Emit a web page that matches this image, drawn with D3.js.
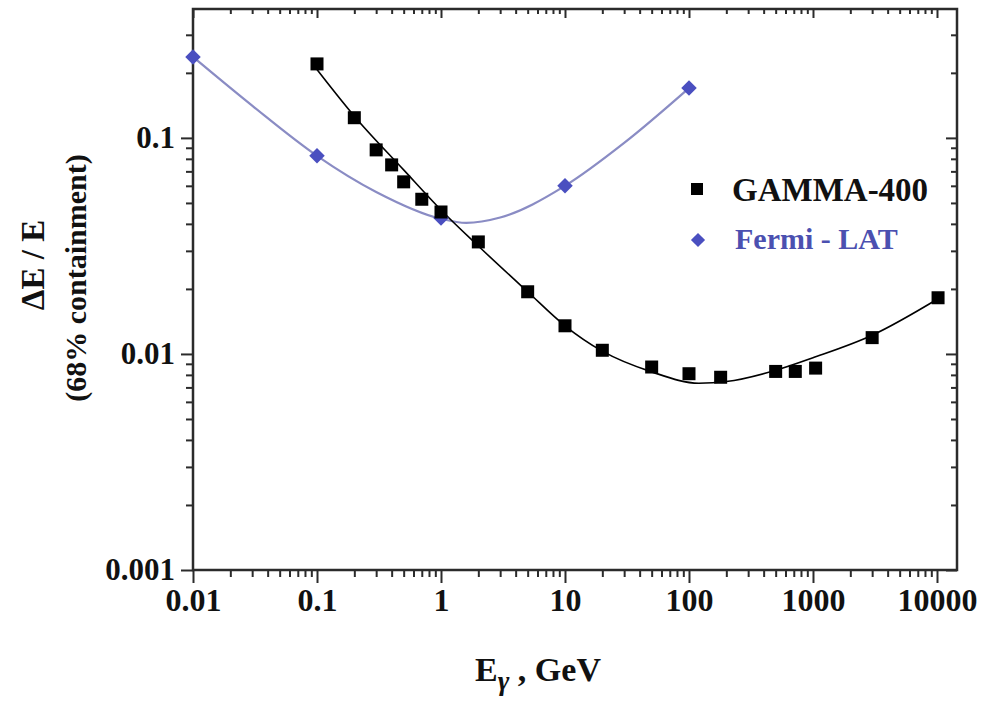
<!DOCTYPE html>
<html>
<head>
<meta charset="utf-8">
<script src="https://cdn.jsdelivr.net/npm/d3@7"></script>
<style>
  body { margin: 0; background: #fff; }
  svg { display: block; }
</style>
</head>
<body>
<svg id="chart" width="985" height="706"></svg>
<script>
/// DATA ///
// GAMMA-400 energy resolution (measured points)
var gammaE = [0.1, 0.2, 0.3, 0.4, 0.5, 0.7, 1, 2, 5, 10, 20, 50, 100, 180, 500, 720, 1050, 3000, 10200];
var gammaRes = [0.22, 0.124, 0.088, 0.075, 0.0626, 0.052, 0.0454, 0.033, 0.0194, 0.0135, 0.0104,
  0.0087, 0.0081, 0.0078, 0.0083, 0.0083, 0.0086, 0.0119, 0.0182];
// GAMMA-400 fit curve
var gammaFitE = [0.095, 0.2, 0.5, 1, 2, 5, 10, 20, 50, 120, 200, 500, 1000, 3000, 10200];
var gammaFitRes = [0.215, 0.126, 0.0711, 0.0464, 0.0316, 0.0194, 0.0135, 0.0103, 0.00826,
  0.00732, 0.00745, 0.0084, 0.0096, 0.0122, 0.018];

// Fermi-LAT points
var fermiE = [0.01, 0.1, 1, 10, 100];
var fermiRes = [0.237, 0.0826, 0.0426, 0.06, 0.17];
// Fermi-LAT fit curve
var fermiFitE = [0.01, 0.03, 0.1, 0.3, 1, 1.6, 3, 10, 30, 100];
var fermiFitRes = [0.237, 0.141, 0.0826, 0.0562, 0.0422, 0.0404, 0.0428, 0.06, 0.0948, 0.17];

// tick labels
var xTicks = [0.01, 0.1, 1, 10, 100, 1000, 10000];
var xTickLabels = ["0.01", "0.1", "1", "10", "100", "1000", "10000"];
var yTicks = [0.001, 0.01, 0.1];
var yTickLabels = ["0.001", "0.01", "0.1"];

var COLOR = {
  AXIS: "#2b2b2b",
  GAMMA: "#000000",
  FERMI: "#4a4fc0",
  FERMI_LINE: "#8a8cc4",
  FERMI_TEXT: "#4b50b0"
};
var FONT = "'Liberation Serif', 'Times New Roman', Times, 'DejaVu Serif', serif";

/// SETUP ///
var margin = { top: 9, right: 28, bottom: 136, left: 193 };
var width = 985 - margin.left - margin.right;
var height = 706 - margin.top - margin.bottom;

var svg = d3.select("#chart")
  .style("font-family", FONT)
  .style("font-weight", "bold");
var plot = svg.append("g")
  .attr("transform", "translate(" + margin.left + "," + margin.top + ")");

var x = d3.scaleLog().domain([0.01, 14500]).range([0, width]);
var y = d3.scaleLog().domain([0.001, 0.395]).range([height, 0]);

// minor tick values: 2..9 in each decade within the domain
function minorTicks(scale) {
  var dom = scale.domain();
  var out = [];
  for (var k = Math.floor(Math.log10(dom[0])); k <= Math.ceil(Math.log10(dom[1])); k++) {
    for (var m = 2; m <= 9; m++) {
      var v = m * Math.pow(10, k);
      if (v > dom[0] && v < dom[1]) out.push(v);
    }
  }
  return out;
}

function styleAxis(g) {
  g.attr("font-family", null).attr("font-size", null);
  g.select(".domain").remove();
  g.selectAll("line").attr("stroke", COLOR.AXIS).attr("stroke-width", 2);
  g.selectAll("text")
    .attr("fill", "#111")
    .style("font-family", FONT)
    .style("font-weight", "bold");
}

// bottom axis
plot.append("g")
  .attr("transform", "translate(0," + height + ")")
  .call(d3.axisBottom(x).tickValues(minorTicks(x)).tickSize(7).tickFormat(""))
  .call(styleAxis);
plot.append("g")
  .attr("transform", "translate(0," + height + ")")
  .call(d3.axisBottom(x).tickValues(xTicks).tickSize(13).tickPadding(5)
    .tickFormat(function (d, i) { return xTickLabels[i]; }))
  .call(styleAxis)
  .selectAll("text")
  .style("font-size", "32px");

// top axis (ticks inward)
plot.append("g")
  .call(d3.axisBottom(x).tickValues(minorTicks(x)).tickSize(5).tickFormat(""))
  .call(styleAxis);
plot.append("g")
  .call(d3.axisBottom(x).tickValues(xTicks).tickSize(9).tickFormat(""))
  .call(styleAxis);

// left axis
plot.append("g")
  .call(d3.axisLeft(y).tickValues(minorTicks(y)).tickSize(7).tickFormat(""))
  .call(styleAxis);
plot.append("g")
  .call(d3.axisLeft(y).tickValues(yTicks).tickSize(12).tickPadding(6)
    .tickFormat(function (d, i) { return yTickLabels[i]; }))
  .call(styleAxis)
  .selectAll("text")
  .style("font-size", "31px");

// right axis (ticks inward)
plot.append("g")
  .attr("transform", "translate(" + width + ",0)")
  .call(d3.axisLeft(y).tickValues(minorTicks(y)).tickSize(6).tickFormat(""))
  .call(styleAxis);
plot.append("g")
  .attr("transform", "translate(" + width + ",0)")
  .call(d3.axisLeft(y).tickValues(yTicks).tickSize(11).tickFormat(""))
  .call(styleAxis);

// frame
plot.append("rect")
  .attr("width", width)
  .attr("height", height)
  .attr("fill", "none")
  .attr("stroke", COLOR.AXIS)
  .attr("stroke-width", 2.5);

/// CURVES ///
var line = d3.line()
  .x(function (d) { return x(d[0]); })
  .y(function (d) { return y(d[1]); })
  .curve(d3.curveMonotoneX);

plot.append("path")
  .datum(d3.zip(fermiFitE, fermiFitRes))
  .attr("d", line)
  .attr("fill", "none")
  .attr("stroke", COLOR.FERMI_LINE)
  .attr("stroke-width", 2.2);

plot.append("path")
  .datum(d3.zip(gammaFitE, gammaFitRes))
  .attr("d", line)
  .attr("fill", "none")
  .attr("stroke", COLOR.GAMMA)
  .attr("stroke-width", 1.6);

/// MARKERS ///
var diamond = d3.symbol().type(d3.symbolSquare).size(120);

plot.selectAll(".fermi-pt")
  .data(d3.zip(fermiE, fermiRes))
  .enter()
  .append("path")
  .attr("class", "fermi-pt")
  .attr("d", diamond)
  .attr("transform", function (d) {
    return "translate(" + x(d[0]) + "," + y(d[1]) + ") rotate(45)";
  })
  .attr("fill", COLOR.FERMI);

plot.selectAll(".gamma-pt")
  .data(d3.zip(gammaE, gammaRes))
  .enter()
  .append("rect")
  .attr("class", "gamma-pt")
  .attr("x", function (d) { return x(d[0]) - 6.5; })
  .attr("y", function (d) { return y(d[1]) - 6.5; })
  .attr("width", 13)
  .attr("height", 13)
  .attr("fill", COLOR.GAMMA);

/// LEGEND ///
var legend = svg.append("g");
legend.append("rect")
  .attr("x", 691).attr("y", 183).attr("width", 12).attr("height", 12)
  .attr("fill", COLOR.GAMMA);
legend.append("text")
  .attr("x", 732).attr("y", 201)
  .style("font-size", "33px")
  .attr("fill", "#111")
  .text("GAMMA-400");
legend.append("path")
  .attr("d", d3.symbol().type(d3.symbolSquare).size(100))
  .attr("transform", "translate(698,240) rotate(45)")
  .attr("fill", COLOR.FERMI);
legend.append("text")
  .attr("x", 735).attr("y", 249)
  .style("font-size", "30px")
  .attr("fill", COLOR.FERMI_TEXT)
  .text("Fermi - LAT");

/// AXIS TITLES ///
var xTitle = svg.append("text")
  .attr("x", 475).attr("y", 681)
  .style("font-size", "34px")
  .attr("fill", "#111");
xTitle.append("tspan").text("E");
xTitle.append("tspan")
  .attr("dy", 9)
  .style("font-size", "28px")
  .style("font-style", "italic")
  .text("\u03B3");
xTitle.append("tspan").attr("dy", -9).text(" , GeV");

svg.append("text")
  .attr("transform", "translate(44,265) rotate(-90)")
  .attr("text-anchor", "middle")
  .style("font-size", "33px")
  .attr("fill", "#111")
  .text("\u0394E / E");

svg.append("text")
  .attr("transform", "translate(86,278) rotate(-90)")
  .attr("text-anchor", "middle")
  .style("font-size", "30px")
  .attr("fill", "#111")
  .text("(68% containment)");
</script>
</body>
</html>
